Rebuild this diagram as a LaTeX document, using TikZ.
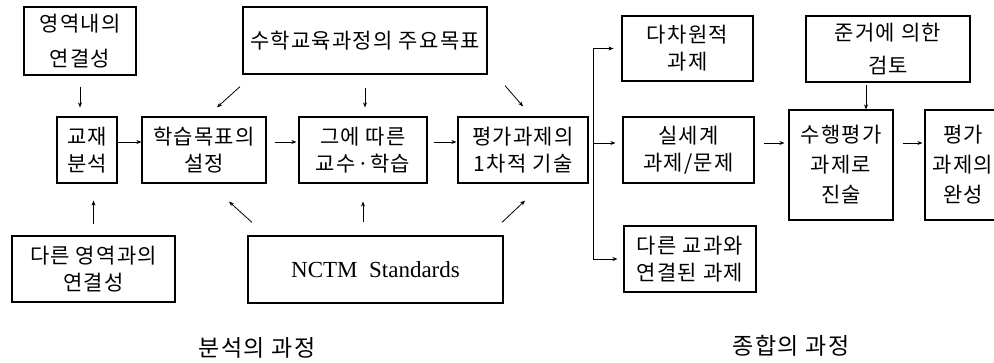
\documentclass[tikz,border=0pt]{standalone}
\usepackage{fontspec}
\setmainfont[LetterSpace=6]{Noto Sans CJK KR}
\newfontfamily\latinserif{Liberation Serif}
\usetikzlibrary{arrows.meta}
\begin{document}
\begin{tikzpicture}
[x=1pt,y=-1pt,
  boxdecorate/.style={shape=rectangle,draw,line width=1.2pt,inner sep=0pt,align=center,
    font=\fontsize{21}{27}\selectfont},
  arrowdecorate/.style={-{Stealth[length=5pt,width=4pt]},line width=0.8pt},
  linedecorate/.style={-,line width=0.8pt}]
\useasboundingbox (0,0) rectangle (994,362);
%% boxes
\foreach \nodename/\x/\y/\w/\h/\txt in {
  inner/80/41/112/68/{영역내의\\[8pt]연결성},
  goal/365/40.5/244/67/{수학교육과정의 주요목표},
  multi/687.5/48.5/131/65/{다차원적\\과제},
  crit/888/49/164/66/{준거에 의한\\[6pt]검토},
  text/87/150/60/66/{교재\\분석},
  obj/204/150/124/66/{학습목표의\\설정},
  teach/363/150/128/66/{그에 따른\\교수·학습},
  task/523/150/130/66/{평가과제의\\1차적 기술},
  real/688.5/150/131/66/{실세계\\과제/문제},
  perf/841/165/104/110/{수행평가\\[3pt]과제로\\[3pt]진술},
  final/963/165/76/110/{평가\\[3pt]과제의\\[3pt]완성},
  other/93.5/269/163/66/{다른 영역과의\\연결성},
  subj/690/259/132/66/{다른 교과와\\연결된 과제}} {
  \node (\nodename) at (\x,\y) [boxdecorate,minimum width=\w,minimum height=\h] {\txt};
}
\node (nctm) at (375.5,269.5) [boxdecorate,minimum width=255,minimum height=67,
  font=\latinserif\fontsize{23}{27}\selectfont] {NCTM\ \ Standards};
%% captions
\node (analysis) at (257,348) [font=\fontsize{23}{27}\selectfont] {분석의 과정};
\node (synthesis) at (791,346) [font=\fontsize{23}{27}\selectfont] {종합의 과정};
%% arrows into the first row
\draw[arrowdecorate,shorten <=11pt,shorten >=9pt] (inner.south) -- (inner.south |- text.north);
\draw[arrowdecorate,shorten <=11pt,shorten >=17pt] (other.north) -- (other.north |- text.south);
\draw[arrowdecorate] ([shift={(-125,12)}]goal.south) -- ([shift={(13,-9)}]obj.north);
\draw[arrowdecorate,shorten <=13pt,shorten >=9pt] (goal.south) -- (goal.south |- teach.north);
\draw[arrowdecorate] ([shift={(140,11)}]goal.south) -- ([shift={(0,-10)}]task.north);
\draw[arrowdecorate] ([shift={(-123.5,-13)}]nctm.north) -- ([shift={(25,18)}]obj.south);
\draw[arrowdecorate,shorten <=13pt,shorten >=18pt] (teach.south |- nctm.north) -- (teach.south);
\draw[arrowdecorate] ([shift={(126.5,-13)}]nctm.north) -- ([shift={(2,17)}]task.south);
%% first row
\draw[arrowdecorate] ([yshift=8pt]text.east) -- ([yshift=8pt]obj.west);
\draw[arrowdecorate,shorten <=8pt,shorten >=2pt] ([yshift=8pt]obj.east) -- ([yshift=8pt]teach.west);
\draw[arrowdecorate,shorten <=6pt,shorten >=1pt] ([yshift=8pt]teach.east) -- ([yshift=8pt]task.west);
%% split into three kinds of tasks
\coordinate (split) at (593,143);
\draw[linedecorate] (split |- multi.west) -- (split |- subj.west);
\draw[arrowdecorate,shorten >=8pt] (split |- multi.west) -- (multi.west);
\draw[arrowdecorate,shorten >=7pt] ([yshift=7pt]split |- real.west) -- ([yshift=7pt]real.west);
\draw[arrowdecorate,shorten >=6pt] (split |- subj.west) -- (subj.west);
%% synthesis
\draw[arrowdecorate,shorten <=9pt,shorten >=4pt] ([yshift=7pt]real.east) -- ([yshift=7pt]real.east -| perf.west);
\draw[arrowdecorate,shorten <=9pt,shorten >=2pt] ([yshift=22pt]perf.east) -- ([yshift=22pt]perf.east -| final.west);
\draw[arrowdecorate,shorten <=2pt] ([xshift=-22pt]crit.south) -- ([xshift=-22pt]crit.south |- perf.north);
\end{tikzpicture}
\end{document}
